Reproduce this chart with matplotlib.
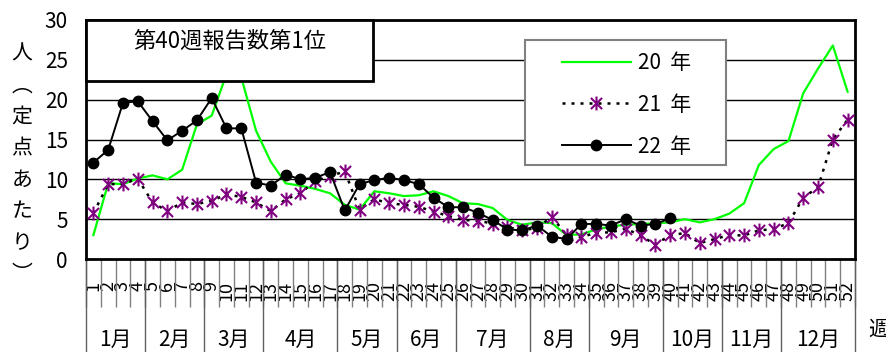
import matplotlib
import matplotlib.pyplot as plt
from matplotlib.lines import Line2D
from matplotlib.patches import Rectangle
from matplotlib.path import Path

matplotlib.use('Agg')
plt.rcParams['font.family'] = ['Noto Sans CJK JP', 'DejaVu Sans']

W, H = 886, 352

weeks = list(range(1, 53))

cases_20 = [3.0, 9.5, 9.4, 10.1, 10.5, 10.0, 11.2, 16.9, 18.0, 23.2,
            22.8, 16.1, 12.2, 9.5, 9.2, 8.8, 8.25, 6.8, 6.2, 8.5,
            8.25, 7.9, 8.0, 8.5, 7.9, 7.0, 6.9, 6.4, 4.9, 4.3,
            4.6, 4.5, 3.0, 3.1, 3.7, 4.1, 4.3, 4.4, 4.5, 4.6,
            5.0, 4.6, 5.0, 5.7, 7.0, 11.8, 13.8, 14.8, 20.8, 23.9,
            26.8, 21.0]

cases_21 = [5.75, 9.4, 9.4, 10.1, 7.1, 6.0, 7.1, 6.9, 7.3, 8.1,
            7.8, 7.1, 6.0, 7.5, 8.25, 9.8, 10.4, 11.0, 6.2, 7.5,
            7.0, 6.8, 6.55, 5.95, 5.4, 4.9, 4.8, 4.45, 4.0, 3.6,
            3.9, 5.3, 3.0, 2.75, 3.3, 3.35, 3.8, 2.95, 1.8, 3.0,
            3.25, 2.0, 2.5, 3.0, 2.95, 3.6, 3.75, 4.5, 7.7, 9.0,
            15.0, 17.5]

cases_22 = [12.1, 13.7, 19.6, 19.8, 17.3, 14.9, 16.1, 17.4, 20.2, 16.4,
            16.4, 9.6, 9.2, 10.6, 10.0, 10.2, 10.9, 6.1, 9.4, 9.9,
            10.2, 9.9, 9.4, 7.7, 6.5, 6.5, 5.8, 4.9, 3.7, 3.6,
            4.2, 2.8, 2.5, 4.4, 4.4, 4.2, 5.0, 4.2, 4.4, 5.1]

months = ['1月', '2月', '3月', '4月', '5月', '6月',
          '7月', '8月', '9月', '10月', '11月', '12月']
weeks_per_month = [4, 4, 4, 5, 4, 4, 5, 4, 5, 4, 4, 5]

series_labels = ['20  年', '21  年', '22  年']
note_text = '第40週報告数第1位'
ylabel_chars = '人︵定点あたり︶'
xlabel_text = '週'


def px(x, y):
    # pixel position (from top-left) -> figure fraction
    return x / W, 1 - y / H


# asterisk marker: vertical bar plus an X
asterisk = Path([(0, -1), (0, 1), (-0.8, -0.8), (0.8, 0.8), (-0.8, 0.8), (0.8, -0.8)],
                [Path.MOVETO, Path.LINETO] * 3)

style_20 = dict(color='#00ff00', lw=1.6)
style_21 = dict(color='black', lw=1.8, ls=(0, (1.2, 2.4)), marker=asterisk,
                markersize=10, markeredgecolor='#800080', markerfacecolor='none',
                markeredgewidth=1.5)
style_22 = dict(color='black', lw=1.4, marker='o', markersize=7.5,
                markerfacecolor='black', markeredgecolor='black')

fig = plt.figure(figsize=(W / 100, H / 100), dpi=100)
ax = fig.add_axes([86 / W, 1 - 259 / H, (855 - 86) / W, (259 - 20) / H])

ax.plot(weeks, cases_20, zorder=3, **style_20)
ax.plot(weeks, cases_21, zorder=4, **style_21)
ax.plot(weeks[:len(cases_22)], cases_22, zorder=5, **style_22)

ax.set_xlim(0.5, 52.5)
ax.set_ylim(0, 30)
ax.set_yticks(range(0, 31, 5))
ax.yaxis.grid(True, color='black', lw=1)
ax.set_axisbelow(True)
ax.tick_params(axis='y', length=0, pad=13, labelsize=15)

for side in ['left', 'right', 'top', 'bottom']:
    ax.spines[side].set_linewidth(2)
    ax.spines[side].set_color('black')

# week numbers under the axis, with tick lines on the week boundaries
ax.set_xticks(weeks)
ax.set_xticklabels([str(w) for w in weeks], rotation=90, fontsize=13)
ax.set_xticks([w + 0.5 for w in [0] + weeks], minor=True)
ax.tick_params(axis='x', which='major', length=0, pad=16)
ax.tick_params(axis='x', which='minor', length=34.5, width=1, color='#808080')

# month separators and month names
xt = ax.get_xaxis_transform()
edge = 0.5
ax.plot([edge, edge], [0, -0.4], transform=xt, color='#606060', lw=1, clip_on=False)
for name, n in zip(months, weeks_per_month):
    ax.text(edge + n / 2, -0.338, name, transform=xt, ha='center', va='center', fontsize=15)
    edge += n
    ax.plot([edge, edge], [0, -0.4], transform=xt, color='#606060', lw=1, clip_on=False)

# note box in the upper left corner
x0, y0 = px(86, 81)
x1, y1 = px(373, 20)
ax.add_patch(Rectangle((x0, y0), x1 - x0, y1 - y0, transform=fig.transFigure,
                       facecolor='white', edgecolor='black', lw=2, zorder=10, clip_on=False))
fig.text(*px(229.5, 41), note_text, ha='center', va='center', fontsize=16, zorder=11)

# legend with its own frame
x0, y0 = px(525, 165)
x1, y1 = px(726, 40)
ax.add_patch(Rectangle((x0, y0), x1 - x0, y1 - y0, transform=fig.transFigure,
                       facecolor='white', edgecolor='#808080', lw=1.5, zorder=10, clip_on=False))
handles = [Line2D([], [], **style_20), Line2D([], [], **style_21), Line2D([], [], **style_22)]
leg = ax.legend(handles, series_labels, loc='upper left', bbox_to_anchor=px(562, 52),
                bbox_transform=fig.transFigure, frameon=False, fontsize=15,
                borderpad=0, borderaxespad=0, handlelength=3.3, handletextpad=0.35,
                labelspacing=0.95)
leg.set_zorder(12)

# vertical axis title, one character per row
for i, ch in enumerate(ylabel_chars):
    fig.text(*px(22, 54 + i * 31.5), ch, ha='center', va='center', fontsize=15)

fig.text(*px(868, 330), xlabel_text, ha='left', va='center', fontsize=15)

fig.savefig('out.png', dpi=100)
plt.close(fig)
